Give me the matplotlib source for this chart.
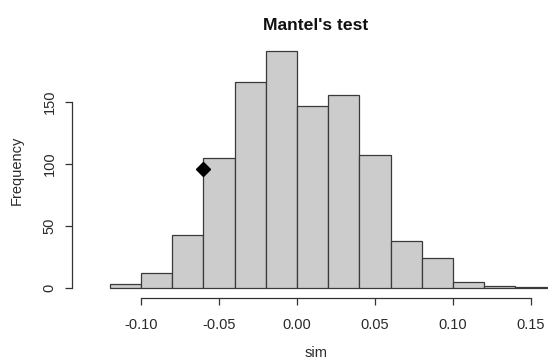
#! /usr/bin/env python3

"Histogram of permuted Mantel statistics, R base-graphics look"

import matplotlib
matplotlib.use("Agg")
import matplotlib.pyplot as plt

# histogram bins and counts
bin_edges = [-0.12, -0.10, -0.08, -0.06, -0.04, -0.02, 0.00,
             0.02, 0.04, 0.06, 0.08, 0.10, 0.12, 0.14, 0.16]
counts = [3, 12, 43, 105, 166, 191, 147, 156, 107, 38, 24, 5, 2, 1]

# observed statistic marked on the plot
obs_x = -0.06
obs_y = 96

x_ticks = [-0.10, -0.05, 0.00, 0.05, 0.10, 0.15]
y_ticks = [0, 50, 100, 150]

plt.rcParams["font.family"] = ["Liberation Sans", "DejaVu Sans"]

W, H = 548, 361
fig = plt.figure(figsize=(W / 100, H / 100), dpi=100)

# plot region in pixels (right edge runs past the image like the reference)
left, right, top, bottom = 72, 560, 41.7, 297.5
ax = fig.add_axes([left / W, 1 - bottom / H, (right - left) / W, (bottom - top) / H])

widths = [b - a for a, b in zip(bin_edges[:-1], bin_edges[1:])]
ax.bar(bin_edges[:-1], counts, width=widths, align="edge",
       color="#cccccc", edgecolor="#3a3a3a", linewidth=0.9)

ax.plot(obs_x, obs_y, marker="D", markersize=7.5, color="black", linestyle="none")

ax.set_xlim(-0.1442, 0.1686)
ax.set_ylim(-7.64, 198.6)

for side in ["top", "right"]:
    ax.spines[side].set_visible(False)
ax.spines["bottom"].set_bounds(x_ticks[0], x_ticks[-1])
ax.spines["left"].set_bounds(y_ticks[0], y_ticks[-1])
for side in ["bottom", "left"]:
    ax.spines[side].set_color("#333333")
    ax.spines[side].set_linewidth(0.9)

ax.set_xticks(x_ticks)
ax.set_xticklabels(["%.2f" % t for t in x_ticks])
ax.set_yticks(y_ticks)
ax.set_yticklabels([str(t) for t in y_ticks], rotation=90, va="center")
ax.tick_params(axis="both", direction="out", length=5, width=0.9,
               color="#333333", labelsize=10.5, labelcolor="#2a2a2a")
ax.tick_params(axis="x", pad=10)
ax.tick_params(axis="y", pad=6)

fig.text(316 / W, 1 - 25 / H, "Mantel's test", ha="center", va="center",
         fontsize=12.6, fontweight="bold", color="#111111")
fig.text(316 / W, 1 - 353 / H, "sim", ha="center", va="center",
         fontsize=10.5, color="#2a2a2a")
fig.text(17 / W, 1 - 170 / H, "Frequency", ha="center", va="center",
         rotation=90, fontsize=10.5, color="#2a2a2a")

fig.savefig("out.png", dpi=100)
